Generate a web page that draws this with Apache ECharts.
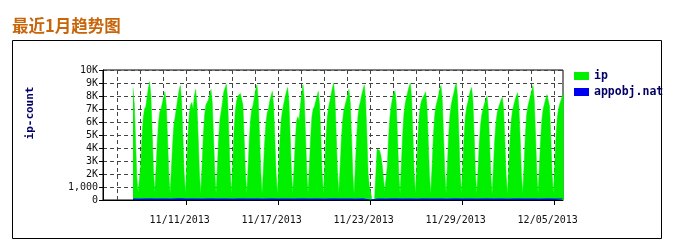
<!DOCTYPE html>
<html><head><meta charset="utf-8">
<script src="https://cdn.jsdelivr.net/npm/echarts@6/dist/echarts.min.js"></script>
<style>html,body{margin:0;padding:0;background:#fff}#c{width:680px;height:241px}</style>
</head><body><div id="c"></div>
<script>
const chartTitle = '最近1月趋势图';
const yAxisName = 'ip-count';
const seriesNames = ['ip', 'appobj.nat'];
const yTickLabels = ['0','1,000','2K','3K','4K','5K','6K','7K','8K','9K','10K'];
const xTickDates = ['2013-11-11','2013-11-17','2013-11-23','2013-11-29','2013-12-05'];
const xTickLabels = ['11/11/2013','11/17/2013','11/23/2013','11/29/2013','12/05/2013'];

// ip: samples every 2 hours starting 2013-11-07 12:00
const ipStartTime = '2013-11-07T12:00:00Z';
const ipStepHours = 2;
const ipValues = [
  8600, 7400, 4600, 1700, 600, 450,
  2600, 4800, 6300, 7000, 7200, 7900, 8600, 9100, 8000, 5200, 2200, 550,
  2400, 4500, 6000, 6800, 7000, 7500, 7900, 8300, 7300, 4800, 2000, 500,
  2300, 4300, 5800, 6400, 7100, 7800, 8400, 8800, 7600, 5000, 2100, 520,
  2700, 5000, 6600, 7300, 7500, 7000, 8000, 8500, 7400, 4800, 2000, 480,
  2600, 4900, 6500, 7300, 7400, 7700, 8100, 8500, 7500, 4900, 2100, 500,
  2500, 4700, 6200, 6800, 7500, 8300, 8600, 8900, 7800, 5100, 2200, 520,
  2700, 5200, 6800, 7600, 8000, 8100, 8200, 8300, 7300, 4700, 2000, 480,
  2400, 4600, 6200, 7000, 7300, 7900, 8500, 8850, 7700, 5000, 2100, 500,
  2300, 4400, 5900, 6700, 7000, 7600, 8000, 8350, 7300, 4700, 2000, 450,
  2500, 4700, 6200, 6900, 7400, 7900, 8300, 8650, 7600, 4900, 2100, 500,
  2400, 4500, 6100, 6400, 6100, 7300, 8200, 8860, 7800, 5000, 2100, 520,
  2600, 4800, 6400, 7000, 7200, 7600, 8000, 8350, 7300, 4800, 2000, 480,
  2500, 4700, 6300, 7100, 7600, 8100, 8600, 9000, 7900, 5100, 2200, 500,
  2400, 4500, 6100, 6900, 7300, 7700, 8100, 8500, 7500, 4900, 2000, 470,
  2600, 4800, 6400, 7200, 7600, 8100, 8500, 8850, 7700, 5000, 2000, 1000,
  600, 0, 0, 0, 0, 3900, 3950, 3800, 3400, 2700, 1600, 700,
  600, 2600, 4800, 6300, 7200, 7800, 8200, 8400, 7400, 4800, 2000, 480,
  2700, 5000, 6600, 7400, 7900, 8300, 8700, 9000, 7900, 5100, 2100, 500,
  2600, 4900, 6500, 7300, 7700, 7900, 8100, 8300, 7300, 4700, 1900, 460,
  2500, 4800, 6400, 7200, 7600, 8000, 8500, 8800, 7700, 5000, 2100, 500,
  2600, 4900, 6500, 7300, 7800, 8200, 8700, 9000, 7900, 5100, 2100, 520,
  2500, 4700, 6300, 7100, 7500, 8000, 8400, 8650, 7600, 4900, 2000, 480,
  2300, 4400, 5800, 6600, 7000, 7400, 7700, 8000, 7000, 4500, 1900, 450,
  2400, 4500, 5900, 6700, 7100, 7400, 7700, 7900, 7000, 4600, 1900, 460,
  2400, 4600, 6100, 6900, 7300, 7700, 8000, 8250, 7200, 4700, 1900, 470,
  2600, 4900, 6500, 7200, 7600, 8000, 8400, 8800, 7700, 5000, 2100, 500,
  2500, 4700, 6200, 7000, 7400, 7800, 8100, 8250, 7200, 4700, 1900, 460,
  2600, 4800, 6300, 7000, 7400, 7700, 8000, 8200
];

// appobj.nat: samples every 12 hours starting 2013-11-07 12:00
const natStartTime = '2013-11-07T12:00:00Z';
const natStepHours = 12;
const natValues = [
  80,70,85,75,80,70,90,75,80,70,
  85,75,80,70,85,75,80,70,85,75,
  80,70,85,75,80,70,85,75,80,70,
  85,0,80,70,85,75,80,70,85,75,
  80,70,85,75,80,70,85,75,80,70,
  85,75,80,70,85,75,80
];

const HOUR = 3600000, DAY = 24 * HOUR;
const axisMin = Date.UTC(2013, 10, 5, 13);
const axisMax = Date.UTC(2013, 11, 5, 13);
const xTickTimes = xTickDates.map(d => Date.parse(d + 'T00:00:00Z'));
const gridLineTimes = [];
for (let t = Date.UTC(2013, 10, 5, 0); t <= axisMax; t += 1.5 * DAY) if (t > axisMin) gridLineTimes.push(t);

const ipT0 = Date.parse(ipStartTime);
const ipData = ipValues.map((v, i) => [ipT0 + i * ipStepHours * HOUR, v]);
const natT0 = Date.parse(natStartTime);
const natData = natValues.map((v, i) => [natT0 + i * natStepHours * HOUR, v]);

const GREEN = '#00f000', BLUE = '#0000f0', NAVY = '#000066';
const mono = 'DejaVu Sans Mono';

const chart = echarts.init(document.getElementById('c'), null, {renderer: 'canvas'});
chart.setOption({
  animation: false,
  backgroundColor: '#fff',
  grid: {left: 103, top: 70, right: 117, bottom: 41, show: true, borderColor: '#000', borderWidth: 1, backgroundColor: 'transparent'},
  legend: {
    data: seriesNames, orient: 'vertical', left: 569, top: 65,
    icon: 'rect', itemWidth: 15, itemHeight: 8, itemGap: 4,
    selectedMode: false,
    textStyle: {fontFamily: mono, fontWeight: 'bold', fontSize: 11.5, color: NAVY}
  },
  xAxis: [{
    type: 'value', min: axisMin, max: axisMax, position: 'bottom',
    axisLine: {show: true, lineStyle: {color: '#000', width: 1}},
    axisTick: {show: true, length: 5, inside: false, customValues: xTickTimes, lineStyle: {color: '#000'}},
    axisLabel: {show: true, customValues: xTickTimes, margin: 15, fontFamily: mono, fontSize: 10, color: '#111',
      padding: [0, 14, 0, 0],
      formatter: v => { const i = xTickTimes.indexOf(v); return i >= 0 ? xTickLabels[i] : ''; }},
    splitLine: {show: false}
  }, {
    type: 'value', min: axisMin, max: axisMax, position: 'top',
    axisLine: {show: false}, axisLabel: {show: false},
    axisTick: {show: false, customValues: gridLineTimes},
    splitLine: {show: true, lineStyle: {color: '#444', type: [4, 3], width: 1}}
  }],
  yAxis: {
    type: 'value', min: 0, max: 10000, interval: 1000,
    axisLine: {show: true, lineStyle: {color: '#000'}},
    axisTick: {show: true, length: 4, inside: false, lineStyle: {color: '#000'}},
    axisLabel: {margin: 5, fontFamily: mono, fontSize: 10, color: '#111',
      formatter: v => yTickLabels[Math.round(v / 1000)]},
    splitLine: {show: true, lineStyle: {color: '#444', type: [4, 3], width: 1}}
  },
  graphic: [
    {type: 'rect', shape: {x: 12.5, y: 40.5, width: 649, height: 198}, style: {fill: null, stroke: '#000', lineWidth: 1}, silent: true},
    {type: 'text', x: 12, y: 26, style: {text: chartTitle, fontFamily: 'Noto Sans CJK SC', fontWeight: 'bold', fontSize: 16.5, fill: '#c8650a', verticalAlign: 'middle'}},
    {type: 'text', x: 30, y: 113, rotation: Math.PI / 2, style: {text: yAxisName, fontFamily: mono, fontWeight: 'bold', fontSize: 11, fill: NAVY, align: 'center', verticalAlign: 'middle'}}
  ],
  series: [{
    name: seriesNames[0], type: 'line', data: ipData, xAxisIndex: 0, yAxisIndex: 0,
    symbol: 'none', showSymbol: false, z: 3, color: GREEN,
    lineStyle: {width: 0.5, color: GREEN}, areaStyle: {color: GREEN, opacity: 1}
  }, {
    name: seriesNames[1], type: 'line', data: natData, xAxisIndex: 0, yAxisIndex: 0,
    symbol: 'none', showSymbol: false, z: 4, color: BLUE,
    lineStyle: {width: 1, color: BLUE}, areaStyle: {color: BLUE, opacity: 1}
  }]
});
</script></body></html>
